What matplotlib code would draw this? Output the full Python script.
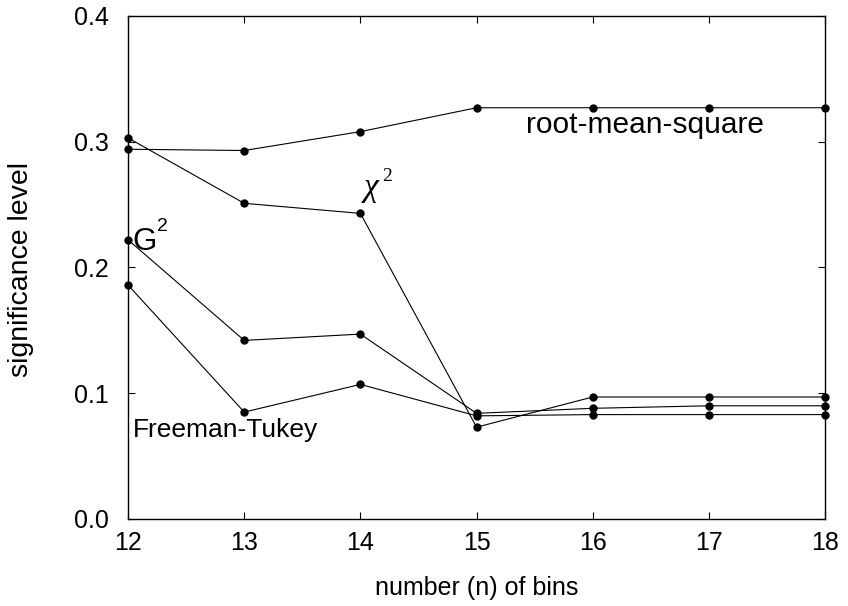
import matplotlib
matplotlib.use("Agg")
import matplotlib.pyplot as plt

plt.rcParams['font.family'] = ['Liberation Sans', 'DejaVu Sans']

bins = [12, 13, 14, 15, 16, 17, 18]
rms = [0.294, 0.293, 0.308, 0.327, 0.327, 0.327, 0.327]
chi2 = [0.303, 0.251, 0.243, 0.073, 0.097, 0.097, 0.097]
g2 = [0.222, 0.142, 0.147, 0.084, 0.088, 0.090, 0.090]
freeman_tukey = [0.186, 0.085, 0.107, 0.082, 0.083, 0.083, 0.083]

fig = plt.figure(figsize=(8.48, 6.06), dpi=100)
ax = fig.add_axes([0.151, 0.1436, 0.822, 0.8301])

for series in (rms, chi2, g2, freeman_tukey):
    ax.plot(bins, series, color='black', lw=0.8, marker='o', ms=5,
            clip_on=False, zorder=3)

ax.set_xlim(12, 18)
ax.set_ylim(0.0, 0.4)
ax.set_xticks(bins)
ax.set_yticks([0.0, 0.1, 0.2, 0.3, 0.4])
ax.set_yticklabels(['0.0', '0.1', '0.2', '0.3', '0.4'])
ax.tick_params(direction='in', length=5, width=0.8, labelsize=18,
               top=True, right=True)
ax.tick_params(axis='y', pad=14)
ax.tick_params(axis='x', pad=9)
for s in ax.spines.values():
    s.set_linewidth(1.0)

ax.set_xlabel('number (n) of bins', fontsize=18)
ax.xaxis.set_label_coords(0.5, -0.113)
ax.set_ylabel('significance level', fontsize=20.5)
ax.yaxis.set_label_coords(-0.135, 0.495)

# curve labels
ax.text(16.45, 0.3135, 'root-mean-square', fontsize=21.5, ha='center', va='center')
ax.text(12.04, 0.2136, 'G', fontsize=22.5, ha='left', va='baseline')
ax.text(12.245, 0.229, '2', fontsize=14, ha='left', va='baseline')
ax.text(14.03, 0.2565, 'χ', fontsize=24, ha='left', va='baseline',
        family='Liberation Serif', style='italic')
ax.text(14.185, 0.2685, '2', fontsize=14, ha='left', va='baseline',
        family='Liberation Serif')
ax.text(12.045, 0.0655, 'Freeman-Tukey', fontsize=19, ha='left', va='baseline')

fig.savefig('out.png', dpi=100)
